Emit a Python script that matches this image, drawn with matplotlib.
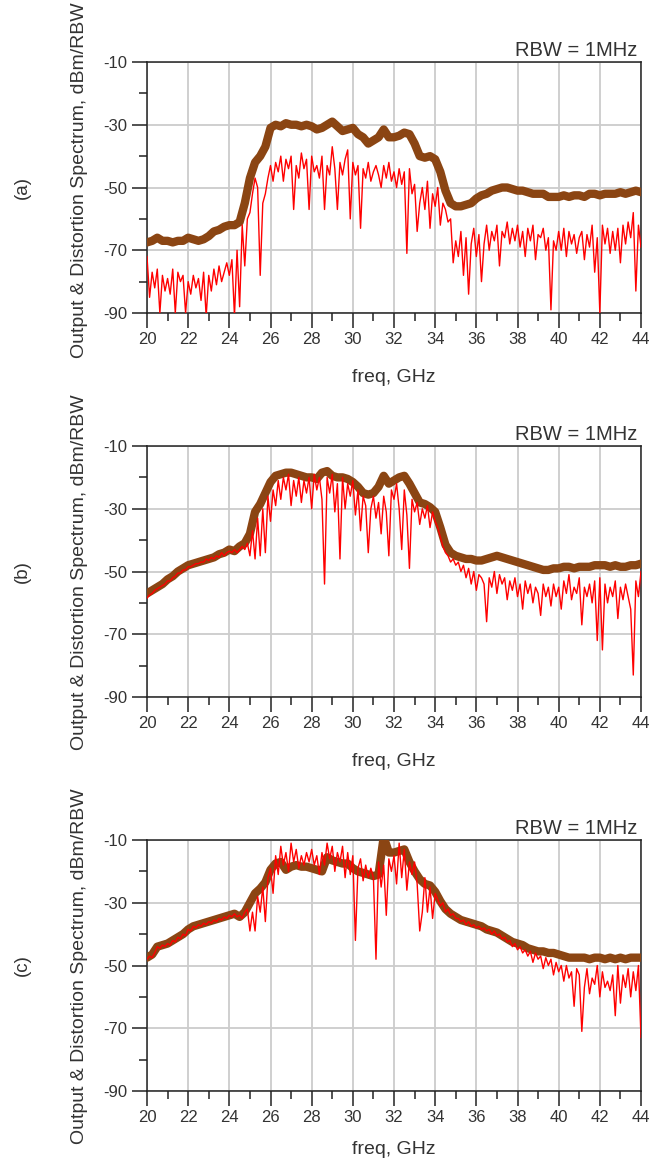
import numpy as np
import matplotlib
matplotlib.use('Agg')
import matplotlib.pyplot as plt
from matplotlib.ticker import MultipleLocator

plt.rcParams['font.family'] = ['Liberation Sans', 'DejaVu Sans']
plt.rcParams['axes.unicode_minus'] = False

freq_out = np.linspace(20, 44, 97)     # GHz, output spectrum samples
freq_dist = np.linspace(20, 44, 193)   # GHz, distortion spectrum samples

out_a = [
    -67.5, -67, -66, -67,
    -67, -67.5, -67, -67,
    -66, -66.5, -67, -66.5,
    -65.5, -64, -63.5, -62.5,
    -62, -62, -61, -55,
    -47, -42, -40, -37,
    -31, -30, -30.5, -29.5,
    -30, -30, -30.5, -30,
    -30.5, -31.5, -31, -30,
    -29, -30.5, -32, -31.5,
    -31, -33, -34, -36,
    -35, -34, -31.5, -34,
    -34, -33.5, -32.5, -33,
    -36, -40, -40.5, -40,
    -41, -45, -51, -55,
    -56, -56, -55.5, -55,
    -53.5, -52.5, -52, -51,
    -50.5, -50, -50, -50.5,
    -51, -51, -51.5, -52,
    -52, -52, -53, -53,
    -53, -52.5, -53, -52.5,
    -52.5, -53, -52, -52,
    -52.5, -52, -52, -52,
    -51.5, -52, -51.5, -51,
    -51.5,
]

dist_a = [
    -72, -85, -77, -82, -76, -90, -78, -83,
    -79, -84, -76, -90, -77, -80, -78, -90,
    -80, -84, -78, -82, -79, -86, -77, -91,
    -78, -83, -76, -81, -75, -80, -77, -74,
    -78, -73, -91, -70, -88, -62, -75, -60,
    -58, -52, -47, -50, -78, -55, -52, -47,
    -43, -48, -42, -45, -40, -48, -41, -44,
    -40, -57, -43, -47, -39, -44, -41, -57,
    -40, -45, -43, -47, -40, -57, -43, -46,
    -37, -44, -57, -42, -46, -41, -38, -60,
    -42, -46, -43, -63, -44, -47, -42, -48,
    -45, -43, -46, -50, -43, -47, -42, -48,
    -45, -50, -44, -49, -45, -71, -44, -52,
    -49, -64, -55, -50, -57, -48, -63, -52,
    -56, -50, -62, -55, -57, -61, -60, -74,
    -67, -72, -64, -78, -66, -84, -68, -63,
    -72, -65, -80, -68, -62, -70, -64, -67,
    -62, -75, -64, -66, -61, -68, -63, -67,
    -62, -69, -64, -72, -63, -67, -62, -73,
    -65, -66, -63, -70, -66, -89, -67, -70,
    -64, -70, -63, -72, -64, -68, -65, -71,
    -66, -64, -73, -65, -69, -62, -77, -66,
    -90, -62, -68, -63, -71, -64, -70, -63,
    -74, -62, -68, -61, -66, -58, -83, -62,
    -69,
]

out_b = [
    -57, -56, -55, -54,
    -52.5, -51.5, -50, -49,
    -48, -47.5, -47, -46.5,
    -46, -45.5, -44.5, -44,
    -43, -43.5, -42, -41,
    -38, -31, -28.5, -25,
    -21.5, -19.5, -19, -18.5,
    -18.5, -19, -19.5, -20,
    -20, -20.5, -18.5, -18,
    -19.5, -20, -20, -20.5,
    -21.5, -23, -25, -25.5,
    -25, -23, -19.5, -22,
    -21, -20, -19.5, -22,
    -25, -28, -28.5, -29.5,
    -31, -36, -41.5, -44,
    -45, -45.5, -46, -46,
    -46.5, -46.5, -46, -45.5,
    -45, -45.5, -46, -46.5,
    -47, -47.5, -48, -48.5,
    -49, -49.5, -49.5, -49,
    -49, -48.5, -48.5, -49,
    -48.5, -48.5, -48.5, -48,
    -48, -48, -48.5, -48,
    -48.5, -48.5, -48, -48,
    -47.5,
]

dist_b = [
    -58.5, -57.5, -57, -56, -55.5, -55, -54.5, -54,
    -53, -53, -52, -51.5, -50.5, -50.5, -49.5, -49.5,
    -48.5, -48.5, -48, -47.5, -47.5, -47, -47, -46,
    -46.5, -45.5, -46, -45, -45.5, -44, -45, -44,
    -43.5, -44, -43, -44, -43, -42, -43, -41,
    -45, -37, -46, -33, -45, -30, -44, -26,
    -34, -24, -29, -21, -27, -20, -24, -19,
    -29, -21, -26, -20, -28, -21, -25, -20,
    -30, -19, -24, -20, -27, -54, -20, -25,
    -19, -31, -22, -46, -20, -30, -22, -26,
    -21, -32, -24, -37, -26, -29, -44, -30,
    -26, -33, -28, -38, -26, -31, -45, -24,
    -27, -22, -30, -43, -24, -32, -49, -27,
    -31, -28, -35, -30, -33, -29, -36, -31,
    -34, -36, -39, -42, -44, -45, -47, -46,
    -48, -47, -50, -48, -52, -49, -54, -50,
    -56, -51, -52, -54, -66, -52, -55, -50,
    -57, -51, -54, -52, -59, -53, -56, -52,
    -58, -54, -62, -53, -57, -54, -60, -55,
    -57, -64, -54, -58, -55, -61, -54, -58,
    -55, -62, -53, -57, -51, -59, -55, -57,
    -52, -67, -55, -58, -54, -60, -53, -72,
    -52, -75, -54, -60, -55, -58, -53, -65,
    -55, -59, -54, -58, -62, -83, -53, -58,
    -50,
]

out_c = [
    -47.5, -46.5, -44, -43.5,
    -43, -42, -41, -40,
    -38.5, -37.5, -37, -36.5,
    -36, -35.5, -35, -34.5,
    -34, -33.5, -34.5, -33,
    -30, -27, -25.5, -23.5,
    -19.5, -17.5, -17, -19.5,
    -18.5, -18, -18.5, -18.5,
    -19, -19.5, -20, -15.5,
    -16.5, -17, -17.5, -17.5,
    -19, -20, -20.5, -21,
    -21.5, -21, -9, -14,
    -14, -13.5, -13, -17,
    -20, -22.5, -24, -24.5,
    -26.5, -29.5, -32, -33.5,
    -34.5, -35.5, -36, -36.5,
    -37, -37.5, -38.5, -39,
    -39.5, -40.5, -41.5, -42.5,
    -43, -43.5, -44.5, -45,
    -45.5, -45.5, -46, -46,
    -46.5, -47, -47.5, -47.5,
    -47.5, -47.5, -48, -47.5,
    -47.5, -48, -47.5, -48,
    -47.5, -48, -47.5, -47.5,
    -47.5,
]

dist_c = [
    -48, -47, -47.5, -46, -44, -44.5, -43.5, -44,
    -43, -43.5, -42, -42.5, -41, -41.5, -40, -40.5,
    -38.5, -39, -37.5, -38, -37, -37.5, -36.5, -37,
    -36, -36.5, -35.5, -36, -35, -35.5, -34.5, -35,
    -34, -34.5, -33.5, -34.5, -34, -35, -33, -32,
    -39, -33, -39, -28, -33, -25, -36, -22,
    -19, -27, -15, -21, -12, -18, -14, -20,
    -11, -17, -13, -19, -15, -18, -14, -17,
    -13, -18, -15, -21, -14, -18, -11, -16,
    -12, -20, -14, -17, -12, -22, -14, -21,
    -15, -42, -19, -16, -23, -18, -22, -19,
    -22, -48, -17, -25, -18, -34, -16, -20,
    -15, -24, -11, -22, -13, -26, -17, -21,
    -17, -24, -39, -33, -22, -33, -25, -35,
    -27, -29, -31, -30, -33, -32, -34, -33.5,
    -35, -35, -36, -35.5, -37, -36, -37.5, -37,
    -38, -37.5, -38.5, -38, -39, -38.5, -40, -39,
    -40.5, -40, -41.5, -41, -42.5, -42, -44, -43,
    -45, -44, -46, -45, -47, -45.5, -49, -46,
    -48, -47, -51, -47.5, -50, -48, -53, -49,
    -52, -50, -55, -50, -54, -52, -63, -51,
    -53, -71, -57, -51, -59, -54, -56, -50,
    -60, -52, -57, -55, -58, -53, -66, -50,
    -62, -53, -57, -51, -60, -52, -58, -50,
    -73,
]

panel_labels = ['(a)', '(b)', '(c)']
x_ticks = list(range(20, 45, 2))
y_ticks = [-10, -30, -50, -70, -90]

W, H = 662, 1161
fig = plt.figure(figsize=(W / 100, H / 100), dpi=100)

ax_left, ax_right = 147, 641
ax_tops = [62, 446, 840]
ax_h = 251
ylabel_centres = [180, 572, 966]
xlabel_centres = [378, 762, 1150]

TXT = '#333333'
AXC = '#222222'
BROWN = '#8B4513'
RED = '#FF0000'

for i, (outv, distv) in enumerate([(out_a, dist_a), (out_b, dist_b), (out_c, dist_c)]):
    top = ax_tops[i]
    rect = [ax_left / W, 1 - (top + ax_h) / H, (ax_right - ax_left) / W, ax_h / H]
    ax = fig.add_axes(rect)
    ax.plot(freq_out, outv, color=BROWN, lw=6.0, solid_joinstyle='round',
            solid_capstyle='round', zorder=3)
    ax.plot(freq_dist, distv, color=RED, lw=1.0, zorder=4)
    ax.set_xlim(20, 44)
    ax.set_ylim(-90, -10)
    ax.set_xticks(x_ticks)
    ax.set_yticks(y_ticks)
    ax.xaxis.set_minor_locator(MultipleLocator(1))
    ax.yaxis.set_minor_locator(MultipleLocator(10))
    ax.grid(True, which='major', color='#cccccc', lw=1.3, zorder=0)
    ax.set_axisbelow(True)
    ax.tick_params(which='major', direction='out', length=11, width=1.1,
                   color=AXC, labelsize=12, labelcolor=TXT, pad=3)
    ax.tick_params(which='minor', direction='out', length=5.5, width=1.1, color=AXC)
    for s in ax.spines.values():
        s.set_color(AXC)
        s.set_linewidth(1.1)
    ax.text(0.992, 1.022, 'RBW = 1MHz', transform=ax.transAxes, ha='right',
            va='baseline', fontsize=14.5, color=TXT)
    fig.text(80 / W, 1 - ylabel_centres[i] / H, 'Output & Distortion Spectrum, dBm/RBW',
             rotation=90, ha='center', va='center', fontsize=14, color=TXT)
    fig.text(22 / W, 1 - (top + ax_h / 2) / H, panel_labels[i], rotation=90,
             ha='center', va='center', fontsize=13.5, color=TXT)
    fig.text((ax_left + ax_right) / 2 / W, 1 - xlabel_centres[i] / H, 'freq, GHz',
             ha='center', va='center', fontsize=14, color=TXT)

fig.savefig('out.png', dpi=100)
